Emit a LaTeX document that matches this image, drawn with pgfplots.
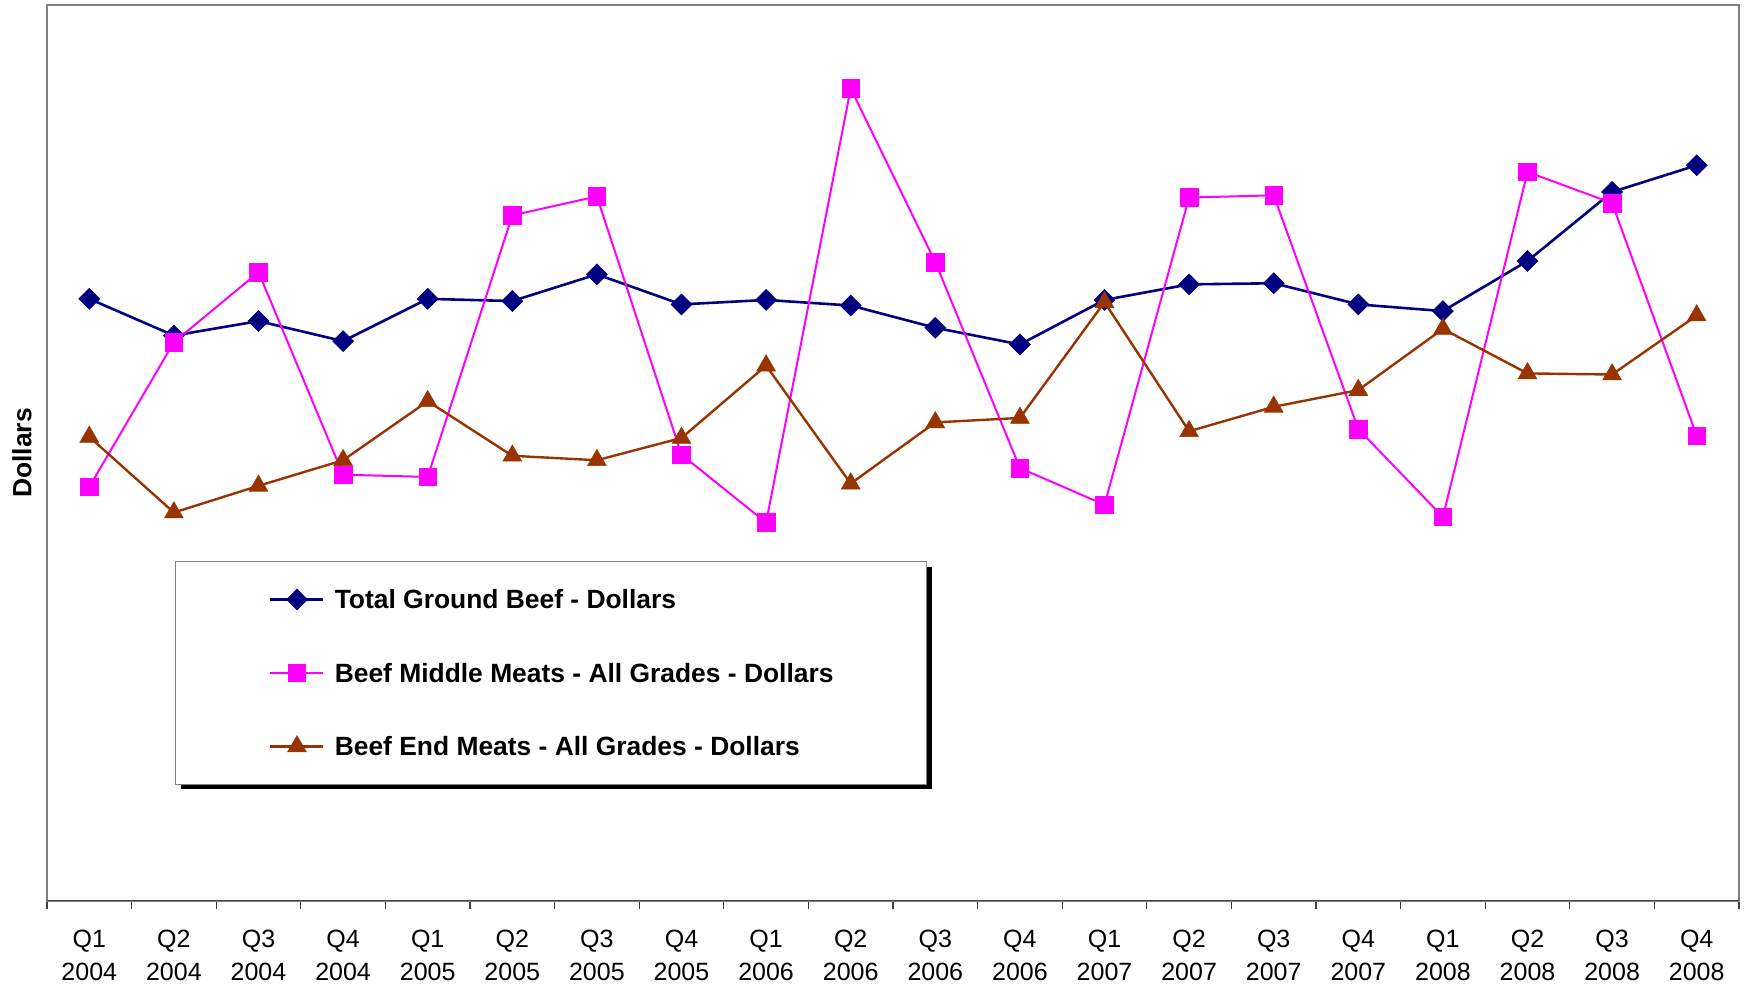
\documentclass[border=0pt]{standalone}
\usepackage{pgfplots}
\pgfplotsset{compat=1.18}
\usepackage{fontspec}
\setmainfont{Liberation Sans}
\definecolor{navyc}{RGB}{0,0,128}
\definecolor{magc}{RGB}{255,0,255}
\definecolor{brownc}{RGB}{153,51,0}
\definecolor{boxgray}{RGB}{128,128,128}
\definecolor{axisdark}{RGB}{64,64,64}
\begin{document}
\begin{tikzpicture}
\begin{axis}[
  scale only axis, width=846pt, height=448pt,
  xmin=-0.5, xmax=19.5, ymin=0, ymax=805,
  xtick={0,...,19},
  xticklabels={Q1\\2004,Q2\\2004,Q3\\2004,Q4\\2004,Q1\\2005,Q2\\2005,Q3\\2005,Q4\\2005,Q1\\2006,Q2\\2006,Q3\\2006,Q4\\2006,Q1\\2007,Q2\\2007,Q3\\2007,Q4\\2007,Q1\\2008,Q2\\2008,Q3\\2008,Q4\\2008},
  minor xtick={-0.5,0.5,...,19.5},
  ytick=\empty,
  xtick pos=lower, tick align=outside,
  major tick length=0pt, minor tick length=4pt,
  minor tick style={axisdark, line width=0.6pt},
  axis line style={boxgray, line width=0.8pt},
  xticklabel style={align=center, inner sep=0pt, anchor=north, yshift=-14.5pt,
     font=\fontsize{12.5}{16.3}\selectfont},
  ylabel={Dollars},
  ylabel style={at={(rel axis cs:0,0.5)}, anchor=center, yshift=12.5pt,
     font=\fontsize{13.2}{13.2}\selectfont\bfseries},
  legend cell align=left,
  legend style={at={(rel axis cs:0.0757,0.3795)}, anchor=north west,
     draw=boxgray, fill=white, line width=0.5pt,
     inner xsep=41.3pt, inner ysep=13pt, row sep=24.75pt,
     nodes={inner xsep=5pt, inner ysep=0pt, text height=10.7pt, text depth=1.3pt,
            font=\fontsize{13.2}{13.2}\selectfont\bfseries}},
  legend image code/.code={\path (0pt,0pt); \draw[mark repeat=2,mark phase=2] plot coordinates {(5.5pt,0pt)(18.75pt,0pt)(32pt,0pt)};},
]
\addplot[navyc, line width=1.3pt, mark=square*, mark size=3.7pt, mark options={solid, rotate=45, fill=navyc, draw=navyc, line width=0.3pt}]
 coordinates {(0,541)(1,508)(2,521)(3,503)(4,541)(5,539)(6,563)(7,536)(8,540)(9,535)(10,515)(11,500)(12,540)(13,554)(14,555)(15,536)(16,530)(17,575)(18,637)(19,661)};
\addlegendentry{Total Ground Beef - Dollars}
\addplot[magc, line width=1pt, mark=square*, mark size=4.4pt, mark options={solid, fill=magc, draw=magc, line width=0.3pt}]
 coordinates {(0,372)(1,502)(2,565)(3,383)(4,381)(5,616)(6,633)(7,401)(8,340)(9,730)(10,574)(11,389)(12,356)(13,632)(14,634)(15,424)(16,345)(17,655)(18,627)(19,418)};
\addlegendentry{Beef Middle Meats - All Grades - Dollars}
\addplot[brownc, line width=1.2pt, mark=triangle*, mark size=5.4pt, mark options={solid, fill=brownc, draw=brownc, line width=0.3pt}]
 coordinates {(0,417)(1,349)(2,373)(3,396)(4,449)(5,400)(6,396)(7,416)(8,481)(9,375)(10,430)(11,434)(12,538)(13,422)(14,444)(15,459)(16,514)(17,474)(18,473)(19,526)};
\addlegendentry{Beef End Meats - All Grades - Dollars}
\draw[axisdark, line width=0.9pt] (rel axis cs:0,0) -- (rel axis cs:1,0);
% legend shadow (right and bottom strips)
\fill[black] ([shift={(0.25pt,-2.8pt)}]rel axis cs:0.5197,0.3795) rectangle ([shift={(2.8pt,-2.8pt)}]rel axis cs:0.5197,0.1317);
\fill[black] ([shift={(2.8pt,-0.25pt)}]rel axis cs:0.0757,0.1317) rectangle ([shift={(2.8pt,-2.8pt)}]rel axis cs:0.5197,0.1317);
\coordinate (sw) at (rel axis cs:0,0);
\coordinate (ne) at (rel axis cs:1,1);
\end{axis}
\path[use as bounding box] ([shift={(-23.5pt,-41.5pt)}]sw) rectangle ([shift={(3.5pt,2.5pt)}]ne);
\end{tikzpicture}
\end{document}
